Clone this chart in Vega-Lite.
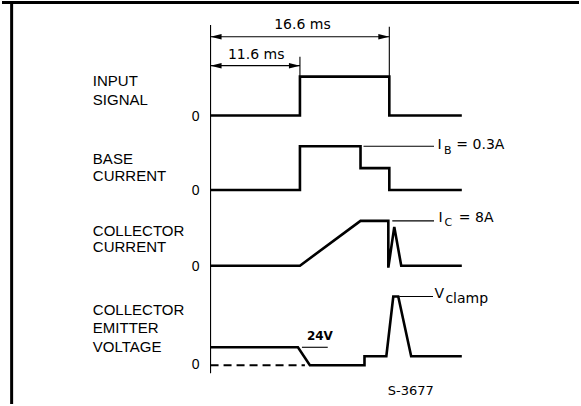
{
  "$schema": "https://vega.github.io/schema/vega-lite/v6.json",
  "width": 581,
  "height": 406,
  "autosize": {"type": "fit", "contains": "padding"},
  "padding": 0,
  "background": "white",
  "config": {"view": {"stroke": null}},
  "datasets": {
    "waves": [
      {"sig": "input", "o": 1, "t": 0, "v": 29.0},
      {"sig": "input", "o": 2, "t": 9.0, "v": 29.0},
      {"sig": "input", "o": 3, "t": 9.0, "v": 32.9},
      {"sig": "input", "o": 4, "t": 18.0, "v": 32.9},
      {"sig": "input", "o": 5, "t": 18.0, "v": 29.0},
      {"sig": "input", "o": 6, "t": 25.3, "v": 29.0},
      {"sig": "base", "o": 1, "t": 0, "v": 21.5},
      {"sig": "base", "o": 2, "t": 9.0, "v": 21.5},
      {"sig": "base", "o": 3, "t": 9.0, "v": 25.9},
      {"sig": "base", "o": 4, "t": 15.1, "v": 25.9},
      {"sig": "base", "o": 5, "t": 15.1, "v": 23.7},
      {"sig": "base", "o": 6, "t": 18.0, "v": 23.7},
      {"sig": "base", "o": 7, "t": 18.0, "v": 21.5},
      {"sig": "base", "o": 8, "t": 25.3, "v": 21.5},
      {"sig": "cc", "o": 1, "t": 0, "v": 13.9},
      {"sig": "cc", "o": 2, "t": 9.0, "v": 13.9},
      {"sig": "cc", "o": 3, "t": 15.1, "v": 18.4},
      {"sig": "cc", "o": 4, "t": 17.9, "v": 18.4},
      {"sig": "cc", "o": 5, "t": 17.9, "v": 13.7},
      {"sig": "cc", "o": 6, "t": 18.5, "v": 17.8},
      {"sig": "cc", "o": 7, "t": 19.2, "v": 13.9},
      {"sig": "cc", "o": 8, "t": 25.3, "v": 13.9},
      {"sig": "ce", "o": 1, "t": 0, "v": 5.7},
      {"sig": "ce", "o": 2, "t": 8.8, "v": 5.7},
      {"sig": "ce", "o": 3, "t": 10.0, "v": 3.9},
      {"sig": "ce", "o": 4, "t": 15.5, "v": 3.9},
      {"sig": "ce", "o": 5, "t": 15.5, "v": 4.8},
      {"sig": "ce", "o": 6, "t": 17.7, "v": 4.8},
      {"sig": "ce", "o": 7, "t": 18.4, "v": 10.8},
      {"sig": "ce", "o": 8, "t": 18.9, "v": 10.8},
      {"sig": "ce", "o": 9, "t": 20.2, "v": 4.8},
      {"sig": "ce", "o": 10, "t": 25.3, "v": 4.8}
    ],
    "dashed": [
      {"t": 0, "v": 3.9},
      {"t": 9.5, "v": 3.9}
    ],
    "thin": [
      {"t": 0, "t2": 0, "v": 3.1, "v2": 38.1},
      {"t": 18.0, "t2": 18.0, "v": 32.9, "v2": 37.9},
      {"t": 9.0, "t2": 9.0, "v": 32.9, "v2": 34.9},
      {"t": 0, "t2": 18.0, "v": 36.9, "v2": 36.9},
      {"t": 0, "t2": 9.0, "v": 34.0, "v2": 34.0},
      {"t": 15.4, "t2": 22.5, "v": 25.9, "v2": 25.9},
      {"t": 18.3, "t2": 22.5, "v": 18.4, "v2": 18.4},
      {"t": 19.0, "t2": 22.4, "v": 10.8, "v2": 10.8},
      {"t": 9.2, "t2": 11.8, "v": 5.7, "v2": 5.7}
    ],
    "border": [
      {"t": -20.03, "t2": -20.03, "v": 0, "v2": 40.4},
      {"t": -21, "t2": 37.1, "v": 40.35, "v2": 40.35}
    ],
    "arrowR": [
      {"t": 18.0, "v": 36.9},
      {"t": 9.0, "v": 34.0}
    ],
    "arrowL": [
      {"t": 0, "v": 36.9},
      {"t": 0, "v": 34.0}
    ],
    "leftLabels": [
      {"t": -11.85, "v": 32.5, "label": "INPUT"},
      {"t": -11.85, "v": 30.6, "label": "SIGNAL"},
      {"t": -11.85, "v": 24.6, "label": "BASE"},
      {"t": -11.85, "v": 22.9, "label": "CURRENT"},
      {"t": -11.85, "v": 17.35, "label": "COLLECTOR"},
      {"t": -11.85, "v": 15.8, "label": "CURRENT"},
      {"t": -11.85, "v": 9.4, "label": "COLLECTOR"},
      {"t": -11.85, "v": 7.6, "label": "EMITTER"},
      {"t": -11.85, "v": 5.75, "label": "VOLTAGE"}
    ],
    "zeros": [
      {"t": -1.5, "v": 28.85, "label": "0"},
      {"t": -1.5, "v": 21.4, "label": "0"},
      {"t": -1.5, "v": 13.8, "label": "0"},
      {"t": -1.5, "v": 3.9, "label": "0"}
    ],
    "dims": [
      {"t": 9.25, "v": 38.1, "label": "16.6 ms"},
      {"t": 4.6, "v": 35.1, "label": "11.6 ms"}
    ],
    "annBig": [
      {"t": 22.85, "v": 26.0, "label": "I"},
      {"t": 24.75, "v": 26.0, "label": "= 0.3A"},
      {"t": 22.95, "v": 18.7, "label": "I"},
      {"t": 25.0, "v": 18.7, "label": "= 8A"},
      {"t": 22.55, "v": 11.1, "label": "V"}
    ],
    "annSub": [
      {"t": 23.5, "v": 25.45, "label": "B"},
      {"t": 23.55, "v": 18.15, "label": "C"}
    ],
    "annMid": [
      {"t": 23.65, "v": 10.6, "label": "clamp"}
    ],
    "annSmall": [
      {"t": 9.7, "v": 6.8, "label": "24V"}
    ],
    "code": [
      {"t": 20.17, "v": 1.27, "label": "S-3677"}
    ]
  },
  "encoding": {
    "x": {"field": "t", "type": "quantitative", "scale": {"domain": [-21, 37.1], "nice": false, "zero": false}, "axis": null},
    "y": {"field": "v", "type": "quantitative", "scale": {"domain": [0, 40.6], "nice": false, "zero": false}, "axis": null}
  },
  "layer": [
    {
      "data": {"name": "border"},
      "mark": {"type": "rule", "color": "#000", "strokeWidth": 3},
      "encoding": {"x2": {"field": "t2"}, "y2": {"field": "v2"}}
    },
    {
      "data": {"name": "thin"},
      "mark": {"type": "rule", "color": "#000", "strokeWidth": 1.1},
      "encoding": {"x2": {"field": "t2"}, "y2": {"field": "v2"}}
    },
    {
      "data": {"name": "dashed"},
      "mark": {"type": "line", "color": "#000", "strokeWidth": 2, "strokeDash": [8, 5]},
      "encoding": {}
    },
    {
      "data": {"name": "waves"},
      "mark": {"type": "line", "color": "#000", "strokeWidth": 2.6, "strokeJoin": "miter"},
      "encoding": {
        "detail": {"field": "sig", "type": "nominal"},
        "order": {"field": "o", "type": "quantitative"}
      }
    },
    {
      "data": {"name": "arrowR"},
      "mark": {"type": "point", "shape": "M0,0L-2,-0.5L-2,0.5Z", "size": 121, "filled": true, "color": "#000", "opacity": 1, "strokeWidth": 0}
    },
    {
      "data": {"name": "arrowL"},
      "mark": {"type": "point", "shape": "M0,0L2,-0.5L2,0.5Z", "size": 121, "filled": true, "color": "#000", "opacity": 1, "strokeWidth": 0}
    },
    {
      "data": {"name": "leftLabels"},
      "mark": {"type": "text", "font": "Liberation Sans", "fontSize": 15, "align": "left", "baseline": "middle", "color": "#000"},
      "encoding": {"text": {"field": "label"}}
    },
    {
      "data": {"name": "zeros"},
      "mark": {"type": "text", "font": "Liberation Sans", "fontSize": 14, "align": "center", "baseline": "middle", "color": "#000"},
      "encoding": {"text": {"field": "label"}}
    },
    {
      "data": {"name": "dims"},
      "mark": {"type": "text", "font": "DejaVu Sans", "fontSize": 14, "align": "center", "baseline": "middle", "color": "#000"},
      "encoding": {"text": {"field": "label"}}
    },
    {
      "data": {"name": "annBig"},
      "mark": {"type": "text", "font": "DejaVu Sans", "fontSize": 14, "align": "left", "baseline": "middle", "color": "#000"},
      "encoding": {"text": {"field": "label"}}
    },
    {
      "data": {"name": "annSub"},
      "mark": {"type": "text", "font": "DejaVu Sans", "fontSize": 11, "align": "left", "baseline": "middle", "color": "#000"},
      "encoding": {"text": {"field": "label"}}
    },
    {
      "data": {"name": "annMid"},
      "mark": {"type": "text", "font": "DejaVu Sans", "fontSize": 14, "align": "left", "baseline": "middle", "color": "#000"},
      "encoding": {"text": {"field": "label"}}
    },
    {
      "data": {"name": "annSmall"},
      "mark": {"type": "text", "font": "DejaVu Sans", "fontSize": 12, "fontWeight": "bold", "align": "left", "baseline": "middle", "color": "#000"},
      "encoding": {"text": {"field": "label"}}
    },
    {
      "data": {"name": "code"},
      "mark": {"type": "text", "font": "DejaVu Sans", "fontSize": 13, "align": "center", "baseline": "middle", "color": "#000"},
      "encoding": {"text": {"field": "label"}}
    }
  ]
}
